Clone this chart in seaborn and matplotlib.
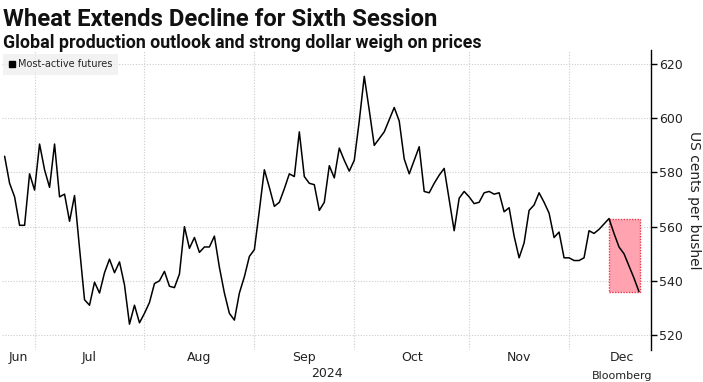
import numpy as np
import pandas as pd
import matplotlib
matplotlib.use("Agg")
import matplotlib.pyplot as plt
from matplotlib.lines import Line2D
from matplotlib.patches import Rectangle
import seaborn as sns

# Wheat most-active futures, US cents per bushel, one value per trading day
fechas = pd.bdate_range("2024-06-21", "2024-12-20", freq="C",
                        holidays=["2024-07-04", "2024-09-02", "2024-11-28"])

precios = [
    586, 576, 571, 560.5, 560.5, 579.5, 573.5, 590.5, 581, 574.5, 590.5, 571,
    572, 562, 571.5, 552, 533, 531, 539.5, 535.5, 543, 548, 543, 547, 538.5,
    524, 531, 524.5, 528, 532, 539, 540, 543.5,
    538, 537.5, 542.5, 560, 552, 556, 550.5, 552.5, 552.5, 556.5, 545, 535.5,
    528, 525.5, 535.5, 541.5, 549, 551.5, 566, 581, 574.5, 567.5, 569, 574,
    579.5, 578.5, 595, 578.5, 576, 575.5, 566, 569, 582.5,
    578, 589, 584.5, 580.5, 584.5, 599, 615.5, 603, 590, 592.5, 595, 599.5,
    604, 599, 585, 579.5, 584.5, 589.5, 573, 572.5, 576, 579, 581.5, 570,
    558.5, 570.5, 573, 571, 568.5, 569, 572.5, 573, 572,
    572.5, 565.5, 567, 556.5, 548.5, 554, 566, 568, 572.5, 569, 565, 556, 558,
    548.5, 548.5, 547.5, 547.5, 548.5, 558.5, 557.5, 559, 561, 563, 557.5,
    552.5, 550, 545.5, 541, 536,
]

meses = ["Jun", "Jul", "Aug", "Sep", "Oct", "Nov", "Dec"]
ticks_y = [520, 540, 560, 580, 600, 620]
dias_racha = 6  # sessions in the current decline

df = pd.DataFrame({"fecha": fechas, "precio": precios})
df["pos"] = np.arange(len(df))

sns.set_theme(style="white")
plt.rcParams["font.family"] = ["DejaVu Sans"]

fig = plt.figure(figsize=(7.03, 3.82), dpi=100)
ax = fig.add_axes([0.003, 0.084, 0.923, 0.785])

# month boundaries (first trading day of each month)
inicio_mes = df.groupby(df["fecha"].dt.month)["pos"].min().tolist()
for p in inicio_mes[1:]:
    ax.axvline(p, color="#cccccc", lw=0.8, ls=(0, (1, 1.5)), zorder=0)
for v in ticks_y:
    ax.axhline(v, color="#cccccc", lw=0.8, ls=(0, (1, 1.5)), zorder=0)

sns.lineplot(data=df, x="pos", y="precio", color="black", lw=1.1, ax=ax, zorder=3)

# highlight of the losing streak
ult = df.iloc[-(dias_racha + 1):]
x0 = ult["pos"].iloc[0]
x1 = ult["pos"].iloc[-1]
ax.add_patch(Rectangle((x0 - 0.1, ult["precio"].min()), x1 - x0 + 0.3,
                       ult["precio"].max() - ult["precio"].min(),
                       facecolor="#ffa3b1", edgecolor="#e8384f", lw=1.0,
                       ls=(0, (1, 1)), zorder=2))

ax.set_xlim(-0.5, 129.4)
ax.set_ylim(514.5, 625.2)

# month labels centred in each month's span
fin_dic = inicio_mes[-1] + 21
centros = [2.8] + [(inicio_mes[i] + (inicio_mes[i + 1] if i + 1 < len(inicio_mes) else fin_dic)) / 2
                   for i in range(1, len(inicio_mes))]
ax.set_xticks(centros)
ax.set_xticklabels(meses)
ax.tick_params(axis="x", length=0, labelsize=9, pad=1, colors="#222222")
ax.text(centros[3] + 4.5, -0.077, "2024", transform=ax.get_xaxis_transform(),
        ha="center", va="center", fontsize=9, color="#222222")

ax.yaxis.tick_right()
ax.yaxis.set_label_position("right")
ax.set_yticks(ticks_y)
ax.tick_params(axis="y", direction="out", length=4, width=1, color="black",
               labelsize=9, pad=2, colors="#222222")
ax.set_ylabel("US cents per bushel", rotation=270, labelpad=13, fontsize=10,
              color="#222222")
ax.set_xlabel("")

for s in ["top", "left", "bottom"]:
    ax.spines[s].set_visible(False)
ax.spines["right"].set_color("black")
ax.spines["right"].set_linewidth(1.0)

leg = ax.legend(handles=[Line2D([], [], marker="s", color="black", ls="",
                                markersize=5)],
                labels=["Most-active futures"], loc="upper left",
                bbox_to_anchor=(0.0, 0.99), borderaxespad=0.1, frameon=True,
                fontsize=7, handletextpad=0.2, borderpad=0.55, handlelength=0.8)
leg.get_frame().set_facecolor("#efefef")
leg.get_frame().set_edgecolor("none")
leg.get_frame().set_boxstyle("square", pad=0)

fig.text(0.004, 0.978, "Wheat Extends Decline for Sixth Session",
         fontsize=17.2, fontweight="bold", va="top", ha="left",
         family=["Roboto", "DejaVu Sans"], color="#111111")
fig.text(0.004, 0.912, "Global production outlook and strong dollar weigh on prices",
         fontsize=12.8, fontweight="bold", va="top", ha="left",
         family=["Roboto", "DejaVu Sans"], color="#111111")
fig.text(0.842, 0.002, "Bloomberg", fontsize=8, va="bottom", ha="left",
         color="#222222")

fig.savefig("out.png", dpi=100)
